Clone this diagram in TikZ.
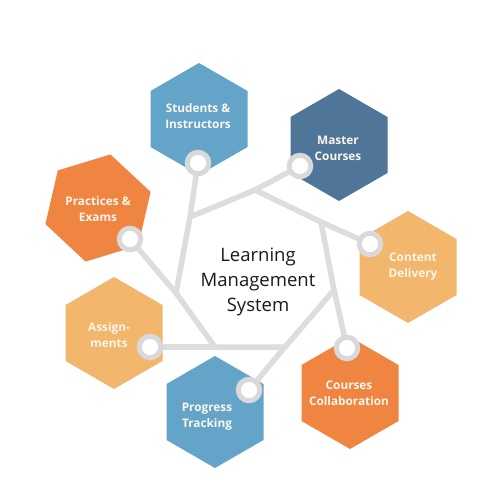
\documentclass[tikz,border=0pt]{standalone}
\usepackage{fontspec}
\setmainfont{Open Sans}
\usetikzlibrary{shapes.geometric}
\definecolor{blueL}{HTML}{65A4C9}
\definecolor{blueD}{HTML}{4F7699}
\definecolor{orangeD}{HTML}{EF8541}
\definecolor{orangeL}{HTML}{F2B66C}
\definecolor{lineg}{HTML}{DDDDDD}
\definecolor{ringg}{HTML}{D9D9D9}
\definecolor{labelc}{HTML}{FCF6EC}
\definecolor{darktext}{HTML}{1A1A1A}
\begin{document}
\begin{tikzpicture}[x=1pt,y=-1pt,
  hexa/.style={regular polygon, regular polygon sides=6, shape border rotate=30,
    inner sep=0pt, minimum size=112pt, draw=none},
  lbl/.style={align=center, font=\bfseries\fontsize{11.8}{16}\selectfont, text=labelc},
  conn/.style={draw=lineg, line width=5.5pt, line join=round, line cap=round},
  dotc/.style={circle, draw=ringg, line width=5pt, fill=white,
    minimum size=21.5pt, inner sep=0pt}]
\useasboundingbox (0,0) rectangle (500,500);
\fill[white] (0,0) rectangle (500,500);

% hexagons
\node[hexa, fill=blueL] (hS) at (199,119) {};
\node[hexa, fill=blueD] (hM) at (339,145) {};
\node[hexa, fill=orangeD, shape border rotate=17, minimum size=110pt] (hP) at (98,208) {};
\node[hexa, fill=orangeL] (hA) at (114,333) {};
\node[hexa, fill=orangeL] (hC) at (408,267) {};
\node[hexa, fill=orangeD] (hK) at (350,393) {};
\node[hexa, fill=blueL] (hT) at (215,412) {};

% ring vertices
\coordinate (vA) at (190,217);
\coordinate (vB) at (255,190);
\coordinate (vC) at (321,222);
\coordinate (vD) at (334,290);
\coordinate (vE) at (285,347);
\coordinate (vF) at (215,347);
\coordinate (vG) at (176,293);

% connector circle positions
\coordinate (cS) at (198,163);
\coordinate (cM) at (300,166);
\coordinate (cC) at (370,244);
\coordinate (cK) at (347,348);
\coordinate (cT) at (249,390);
\coordinate (cA) at (150,347);
\coordinate (cP) at (130,239);

% connectors
\path[conn] (vA) -- (vB) -- (vC) -- (vD) -- (vE) -- (vF) -- (vG) -- cycle;
\path[conn] (vA) -- (cS);
\path[conn] (vB) -- (cM);
\path[conn] (vC) -- (cC);
\path[conn] (vD) -- (cK);
\path[conn] (vE) -- (cT);
\path[conn] (vF) -- (cA);
\path[conn] (vG) -- (cP);

% circles over connectors
\node[dotc] (dS) at (cS) {};
\node[dotc] (dM) at (cM) {};
\node[dotc] (dC) at (cC) {};
\node[dotc] (dK) at (cK) {};
\node[dotc] (dT) at (cT) {};
\node[dotc] (dA) at (cA) {};
\node[dotc] (dP) at (cP) {};

% labels
\node[lbl] (tS) at (198,116) {Students \&\\Instructors};
\node[lbl] (tM) at (338,148) {Master\\Courses};
\node[lbl] (tP) at (98,209) {Practices \&\\Exams};
\node[lbl] (tA) at (109,335) {Assign-\\ments};
\node[lbl] (tC) at (413,267) {Content\\Delivery};
\node[lbl] (tK) at (349,393) {Courses\\Collaboration};
\node[lbl] (tT) at (207,417) {Progress\\Tracking};

\node[align=center, text=darktext, font=\fontsize{18.5}{25}\selectfont] (ctr) at (258,282)
  {Learning\\Management\\System};
\end{tikzpicture}
\end{document}
